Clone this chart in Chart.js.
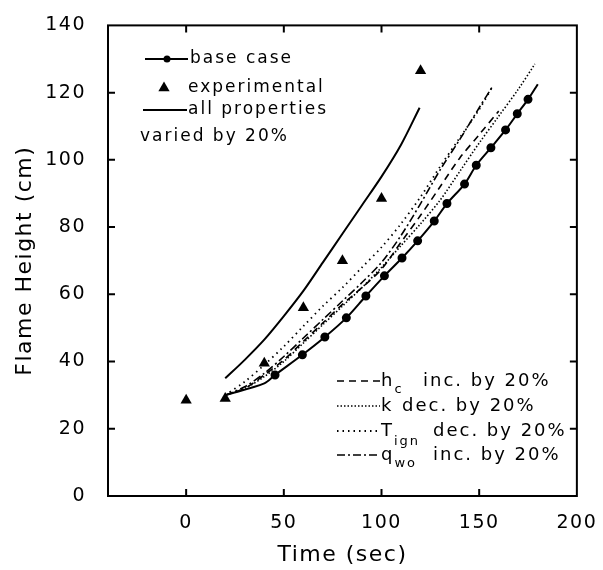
<!DOCTYPE html>
<html>
<head>
<meta charset="utf-8">
<script src="https://cdn.jsdelivr.net/npm/chart.js@4/dist/chart.umd.min.js"></script>
<style>
  html, body { margin: 0; padding: 0; background: #fff; }
</style>
</head>
<body>
<canvas id="flameChart" width="603" height="570"></canvas>
<script>
// axis ticks
const xTicks = [0, 50, 100, 150, 200];
const yTicks = [0, 20, 40, 60, 80, 100, 120, 140];

// measured flame heights
const expTime = [0, 20, 40, 60, 80, 100, 120];
const expHeight = [28.5, 29, 39.5, 56, 70, 88.5, 126.5];

// model runs
const baseTime = [20, 40, 45.5, 59.5, 71, 82, 92, 101.5, 110.5, 118.5, 127, 133.5, 142.5, 148.5, 156, 163.5, 169.5, 175, 180];
const baseHeight = [30, 33.5, 36, 42, 47.3, 53, 59.5, 65.5, 70.8, 75.9, 81.8, 87, 92.8, 98.4, 103.6, 108.9, 113.7, 118, 122.5];

const allTime = [20, 30, 40, 50, 60, 70, 80, 90, 100, 110, 119.5];
const allHeight = [35, 40.5, 46.5, 53.5, 61, 69.5, 78, 86.5, 95, 104.5, 115.5];

const hcTime = [20, 30, 40, 50, 60, 70, 80, 90, 100, 110, 120, 130, 140, 150, 160];
const hcHeight = [30, 32, 36, 40.5, 46, 51.5, 57, 62, 67.5, 75.5, 83.5, 92, 100.5, 107.5, 114.5];

const kTime = [20, 30, 40, 50, 60, 70, 80, 90, 100, 110, 120, 130, 140, 150, 160, 170, 178.5];
const kHeight = [30, 32, 35.5, 40, 45.5, 51, 56.5, 62, 68, 74.5, 81, 88, 96.5, 105, 113, 121, 128.5];

const tignTime = [20, 30, 40, 50, 60, 70, 80, 90, 100, 110, 120, 130, 140, 150, 157];
const tignHeight = [30, 34, 39, 44.5, 50.5, 56.5, 62, 68, 74, 81, 89, 98, 106.5, 115, 122];

const qwoTime = [20, 30, 40, 50, 60, 70, 80, 90, 100, 110, 120, 130, 140, 150, 157];
const qwoHeight = [30, 32.5, 36.5, 41.5, 47, 52.5, 58, 63.5, 69.5, 77.5, 87, 97, 106, 115.5, 122];

function pts(xs, ys) {
  return xs.map((x, i) => ({ x: x, y: ys[i] }));
}

// base case markers only on the inner points
const baseRadius = baseTime.map((t, i) => (i < 2 || i === baseTime.length - 1) ? 0 : 3.5);

const FONT = "'DejaVu Sans', sans-serif";
Chart.defaults.font.family = FONT;
Chart.defaults.color = '#000';

function lineSet(label, xs, ys, dash, width) {
  return {
    label: label,
    data: pts(xs, ys),
    borderColor: '#000',
    backgroundColor: '#000',
    borderWidth: width,
    borderDash: dash,
    pointRadius: 0,
    tension: 0.3,
    fill: false
  };
}

const datasets = [
  lineSet('all properties', allTime, allHeight, [], 2),
  lineSet('hc', hcTime, hcHeight, [7, 5], 1.6),
  lineSet('k', kTime, kHeight, [1.5, 2], 1.6),
  lineSet('Tign', tignTime, tignHeight, [1.5, 4], 1.8),
  lineSet('qwo', qwoTime, qwoHeight, [8, 3, 2, 3], 1.6),
  Object.assign(lineSet('base case', baseTime, baseHeight, [], 2), {
    pointRadius: baseRadius,
    pointStyle: 'circle'
  }),
  {
    label: 'experimental',
    data: pts(expTime, expHeight),
    showLine: false,
    pointStyle: 'triangle',
    pointRadius: 6.5,
    borderWidth: 0,
    borderColor: '#000',
    backgroundColor: '#000'
  }
];

// box around the plot with inward tick marks on all four sides
const frame = {
  id: 'frame',
  beforeDraw(chart) {
    chart.ctx.letterSpacing = '1.5px';
  },
  afterDatasetsDraw(chart) {
    const { ctx, chartArea: a, scales } = chart;
    const len = 7;
    ctx.save();
    ctx.strokeStyle = '#000';
    ctx.lineWidth = 2;
    ctx.setLineDash([]);
    ctx.strokeRect(a.left, a.top, a.right - a.left, a.bottom - a.top);
    ctx.beginPath();
    xTicks.forEach(v => {
      const px = scales.x.getPixelForValue(v);
      if (px <= a.left + 1 || px >= a.right - 1) return;
      ctx.moveTo(px, a.bottom); ctx.lineTo(px, a.bottom - len);
      ctx.moveTo(px, a.top); ctx.lineTo(px, a.top + len);
    });
    yTicks.forEach(v => {
      const py = scales.y.getPixelForValue(v);
      if (py <= a.top + 1 || py >= a.bottom - 1) return;
      ctx.moveTo(a.left, py); ctx.lineTo(a.left + len, py);
      ctx.moveTo(a.right, py); ctx.lineTo(a.right - len, py);
    });
    ctx.stroke();
    ctx.restore();
  }
};

// hand-drawn legends: one block top left, one block bottom right
const legends = {
  id: 'legends',
  afterDraw(chart) {
    const ctx = chart.ctx;
    const ds = chart.data.datasets;
    ctx.save();
    ctx.letterSpacing = '2px';
    ctx.fillStyle = '#000';
    ctx.strokeStyle = '#000';
    ctx.textBaseline = 'middle';
    ctx.font = '17px ' + FONT;

    function seg(x1, x2, y, set) {
      ctx.save();
      ctx.lineWidth = set.borderWidth;
      ctx.setLineDash(set.borderDash || []);
      ctx.beginPath();
      ctx.moveTo(x1, y);
      ctx.lineTo(x2, y);
      ctx.stroke();
      ctx.restore();
    }

    // top left block
    seg(145, 188, 59, ds[5]);
    ctx.beginPath();
    ctx.arc(167, 59, 3.5, 0, Math.PI * 2);
    ctx.fill();
    ctx.fillText('base case', 190, 59);

    const r = 6.5;
    ctx.beginPath();
    ctx.moveTo(164, 88 - r);
    ctx.lineTo(164 + r * Math.sin(2 * Math.PI / 3), 88 + r / 2);
    ctx.lineTo(164 - r * Math.sin(2 * Math.PI / 3), 88 + r / 2);
    ctx.closePath();
    ctx.fill();
    ctx.fillText('experimental', 188, 88);

    seg(143, 187, 110, ds[0]);
    ctx.fillText('all properties', 188, 110);
    ctx.fillText('varied by 20%', 140, 137);

    // bottom right block: symbol, subscript, rest of the label
    const rows = [
      { set: ds[1], y: 381, main: 'h', sub: 'c', subDy: 9, rest: 'inc. by 20%', restX: 423 },
      { set: ds[2], y: 406, main: 'k', sub: '', subDy: 0, rest: 'dec. by 20%', restX: 402 },
      { set: ds[3], y: 431, main: 'T', sub: 'ign', subDy: 11, rest: 'dec. by 20%', restX: 433 },
      { set: ds[4], y: 455, main: 'q', sub: 'wo', subDy: 9, rest: 'inc. by 20%', restX: 433 }
    ];
    rows.forEach(row => {
      seg(337, 380, row.y, row.set);
      ctx.font = '18px ' + FONT;
      ctx.fillText(row.main, 381, row.y);
      const w = ctx.measureText(row.main).width;
      if (row.sub) {
        ctx.font = '13px ' + FONT;
        ctx.fillText(row.sub, 381 + w, row.y + row.subDy);
      }
      ctx.font = '18px ' + FONT;
      ctx.fillText(row.rest, row.restX, row.y);
    });
    ctx.restore();
  }
};

new Chart(document.getElementById('flameChart'), {
  type: 'line',
  data: { datasets: datasets },
  options: {
    responsive: false,
    animation: false,
    layout: { padding: { left: 0, right: 20, top: 23, bottom: 0 } },
    plugins: {
      legend: { display: false },
      tooltip: { enabled: false }
    },
    scales: {
      x: {
        type: 'linear',
        min: -40,
        max: 200,
        afterBuildTicks: s => { s.ticks = xTicks.map(v => ({ value: v })); },
        afterFit: s => { s.height = 74; },
        grid: { display: false },
        border: { display: false },
        ticks: { font: { size: 19 }, padding: 8, maxRotation: 0 },
        title: {
          display: true,
          text: 'Time (sec)',
          font: { size: 22 },
          padding: { top: 0, bottom: 2 }
        }
      },
      y: {
        min: 0,
        max: 140,
        afterBuildTicks: s => { s.ticks = yTicks.map(v => ({ value: v })); },
        afterFit: s => { s.width = 108; },
        grid: { display: false },
        border: { display: false },
        ticks: { font: { size: 19 }, padding: 14 },
        title: {
          display: true,
          text: 'Flame Height (cm)',
          font: { size: 22 },
          padding: { top: 12, bottom: 0 }
        }
      }
    }
  },
  plugins: [frame, legends]
});
</script>
</body>
</html>
